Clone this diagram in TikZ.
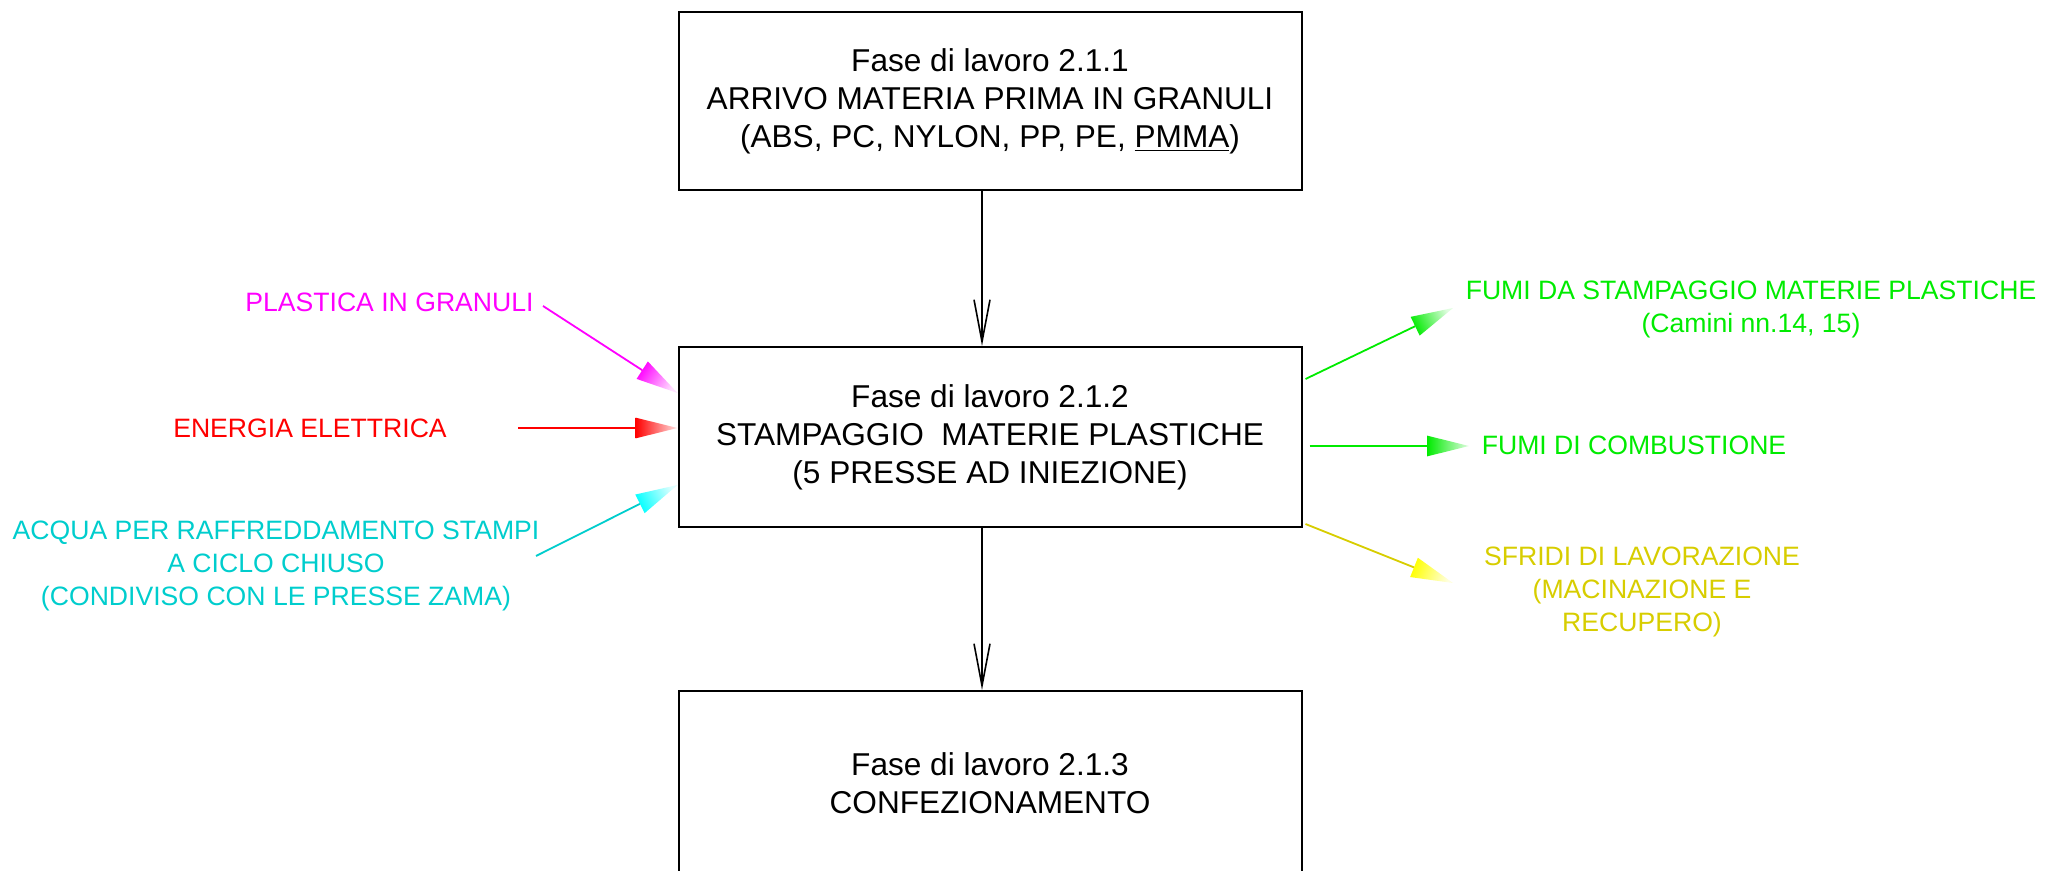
\documentclass[tikz,border=0pt]{standalone}
\usepackage{fontspec}
\setmainfont{Liberation Sans}
\usetikzlibrary{calc,arrows.meta}
\definecolor{cmag}{RGB}{255,0,255}
\definecolor{cred}{RGB}{255,0,0}
\definecolor{ccyan}{RGB}{0,205,205}
\definecolor{ccyanh}{RGB}{0,255,255}
\definecolor{cgreen}{RGB}{0,235,0}
\definecolor{cyel}{RGB}{215,205,0}
\definecolor{cyelh}{RGB}{255,255,0}
\newcommand\gradhead[4]{%
  \shade[top color=#3!12, bottom color=#3, shading angle=#4]
    ($(#2)!21pt!(#1)!5.2pt!90:(#2)$) -- (#2) -- ($(#2)!21pt!(#1)!5.2pt!-90:(#2)$) -- cycle;}
\begin{document}
\begin{tikzpicture}[x=0.5pt,y=-0.5pt,
  phase/.style={draw=black, line width=1pt, minimum width=311.5pt, align=center,
    font=\fontsize{15.8}{19}\selectfont, inner sep=0pt},
  lab/.style={font=\fontsize{13.3}{16.5}\selectfont, align=center, inner sep=1pt},
  flow/.style={draw=black, line width=0.8pt, -{Straight Barb[length=21pt,width=8pt,line width=0.8pt]}},
  conn/.style={line width=0.9pt}]
\useasboundingbox (0,0) rectangle (2071,871);
\clip (0,0) rectangle (2071,871);

% boxes
\node[phase, minimum height=89pt] (b1) at (990,101)
  {Fase di lavoro 2.1.1\\ARRIVO MATERIA PRIMA IN GRANULI\\(ABS, PC, NYLON, PP, PE, \underline{PMMA})};
\node[phase, minimum height=90pt] (b2) at (990,437)
  {Fase di lavoro 2.1.2\\STAMPAGGIO\ \ MATERIE PLASTICHE\\(5 PRESSE AD INIEZIONE)};
\node[phase, minimum height=92pt] (b3) at (990,783)
  {Fase di lavoro 2.1.3\\CONFEZIONAMENTO};

% main flow
\draw[flow] ($(b1.south)+(-8,0)$) -- ($(b2.north)+(-8,0)$);
\draw[flow] ($(b2.south)+(-8,0)$) -- ($(b3.north)+(-8,0)$);

% labels
\node[lab, text=cmag, anchor=east] (lplast) at (536,302) {PLASTICA IN GRANULI};
\node[lab, text=cred] (lenerg) at (310,428) {ENERGIA ELETTRICA};
\node[lab, text=ccyan] (lacqua) at (276,566)
  {ACQUA PER RAFFREDDAMENTO STAMPI\\A CICLO CHIUSO\\(CONDIVISO CON LE PRESSE ZAMA)};
\node[lab, text=cgreen] (rfumi) at (1751,309)
  {FUMI DA STAMPAGGIO MATERIE PLASTICHE\\(Camini nn.14, 15)};
\node[lab, text=cgreen] (rcomb) at (1634,445) {FUMI DI COMBUSTIONE};
\node[lab, text=cyel] (rsfr) at (1642,592)
  {SFRIDI DI LAVORAZIONE\\(MACINAZIONE E\\RECUPERO)};

% free ends and tips
\coordinate (s1) at (543,306);
\coordinate (t1) at ($(b2.west)+(0,-44)$);
\coordinate (s2) at (518,428);
\coordinate (t2) at ($(b2.west)+(0,-9)$);
\coordinate (s3) at (536,556);
\coordinate (t3) at ($(b2.west)+(0,48)$);
\coordinate (s4) at ($(b2.east)+(3,-58)$);
\coordinate (t4) at (1453,308);
\coordinate (s5) at ($(b2.east)+(7,9)$);
\coordinate (t5) at (1469,446);
\coordinate (s6) at ($(b2.east)+(3,87)$);
\coordinate (t6) at (1453,583);

% inputs
\draw[conn, cmag] (s1) -- ($(t1)!21pt!(s1)$);
\gradhead{s1}{t1}{cmag}{-123}
\draw[conn, cred] (s2) -- ($(t2)!21pt!(s2)$);
\gradhead{s2}{t2}{cred}{-90}
\draw[conn, ccyan] (s3) -- ($(t3)!21pt!(s3)$);
\gradhead{s3}{t3}{ccyanh}{-63.4}
% outputs
\draw[conn, cgreen] (s4) -- ($(t4)!21pt!(s4)$);
\gradhead{s4}{t4}{cgreen}{-64.5}
\draw[conn, cgreen] (s5) -- ($(t5)!21pt!(s5)$);
\gradhead{s5}{t5}{cgreen}{-90}
\draw[conn, cyel] (s6) -- ($(t6)!21pt!(s6)$);
\gradhead{s6}{t6}{cyelh}{-110.9}
\end{tikzpicture}
\end{document}
